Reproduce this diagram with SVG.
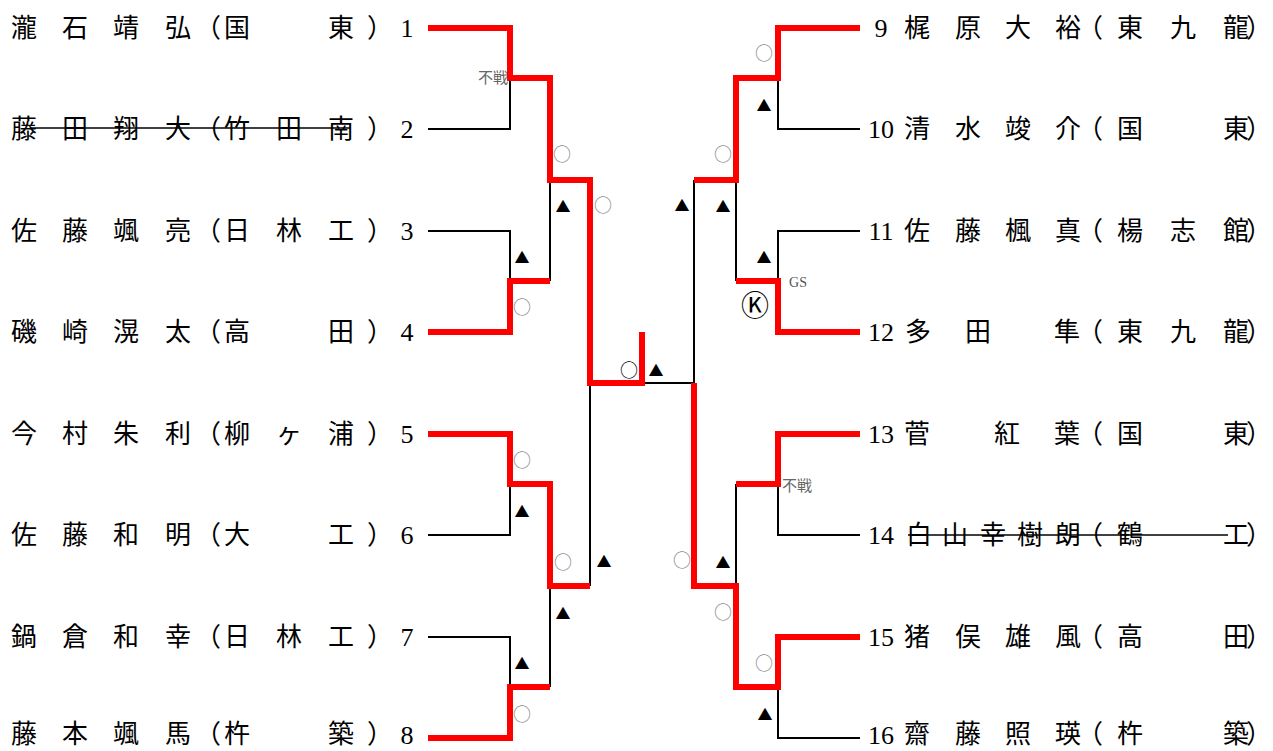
<svg xmlns="http://www.w3.org/2000/svg" width="1273" height="751" viewBox="0 0 1273 751">
<style>
.bg{fill:#fff}
.blk{fill:none;stroke:#000;stroke-width:2}
.red{fill:none;stroke:#f00;stroke-width:6;stroke-linejoin:miter}
.strike{fill:none;stroke:#000;stroke-width:1.6}
.nm{font-family:"Noto Sans CJK JP","Noto Sans CJK SC",sans-serif;font-size:26px;fill:#000;text-anchor:middle}
.num{font-family:"Liberation Serif",serif;font-size:26px;fill:#000;text-anchor:middle}
.ok{font-family:"Noto Sans CJK JP",sans-serif;font-size:18px;fill:#888;text-anchor:middle}
.ok2{font-family:"Noto Sans CJK JP",sans-serif;font-size:18px;fill:#000;text-anchor:middle}
.tri{font-family:"Noto Sans CJK JP",sans-serif;font-size:15px;fill:#000;text-anchor:middle}
.note{font-family:"Noto Sans CJK JP",sans-serif;font-size:15px;fill:#666}
.gs{font-family:"Liberation Serif",serif;font-size:14px;fill:#555;text-anchor:middle}
.kk{font-family:"Noto Sans CJK JP","DejaVu Sans",sans-serif;font-size:28px;fill:#000;text-anchor:middle}
</style>
<rect class="bg" x="0" y="0" width="1273" height="751"/>

<g id="connectors">
  <path class="blk" d="M428,129 H510 V78 M428,231 H510 V281 M550,281 V180 M428,535 H510 V484 M428,637 H510 V687 M550,687 V586 M590,586 V383"/>
  <path class="blk" d="M860,129 H778 V78 M860,231 H778 V281 M736,281 V180 M694,180 V383 H642 M860,535 H778 V484 M736,484 V586 M860,738 H778 V687"/>
  <path class="red" d="M428,28 H510 V78 H550 V180 H590 V383 H642 V332"/>
  <path class="red" d="M428,332 H510 V281 H550"/>
  <path class="red" d="M428,434 H510 V484 H550 V586 H590"/>
  <path class="red" d="M428,738 H510 V687 H550"/>
  <path class="red" d="M860,28 H778 V78 H736 V180 H694"/>
  <path class="red" d="M860,332 H778 V281 H736"/>
  <path class="red" d="M860,434 H778 V484 H736"/>
  <path class="red" d="M860,637 H778 V687 H736 V586 H694 V383"/>
</g>

<g id="p1"><text class="nm" x="24 75 126 178 208 237 341 380" y="37">瀧石靖弘（国東）</text><text class="num" x="407" y="37">1</text></g>
<g id="p2"><text class="nm" x="24 75 126 178 208 237 289 341 380" y="138">藤田翔大（竹田南）</text><text class="num" x="407" y="138">2</text><path class="strike" d="M30,128 H350"/></g>
<g id="p3"><text class="nm" x="24 75 126 178 208 237 289 341 380" y="240">佐藤颯亮（日林工）</text><text class="num" x="407" y="240">3</text></g>
<g id="p4"><text class="nm" x="24 75 126 178 208 237 341 380" y="341">磯崎滉太（高田）</text><text class="num" x="407" y="341">4</text></g>
<g id="p5"><text class="nm" x="24 75 126 178 208 237 289 341 380" y="443">今村朱利（柳ヶ浦）</text><text class="num" x="407" y="443">5</text></g>
<g id="p6"><text class="nm" x="24 75 126 178 208 237 341 380" y="544">佐藤和明（大工）</text><text class="num" x="407" y="544">6</text></g>
<g id="p7"><text class="nm" x="24 75 126 178 208 237 289 341 380" y="646">鍋倉和幸（日林工）</text><text class="num" x="407" y="646">7</text></g>
<g id="p8"><text class="nm" x="24 75 126 178 208 237 341 380" y="743">藤本颯馬（杵築）</text><text class="num" x="407" y="744">8</text></g>

<g id="p9"><text class="num" x="881" y="37">9</text><text class="nm" x="917 968 1018 1068 1090 1130 1183 1236 1259" y="37">梶原大裕（東九龍）</text></g>
<g id="p10"><text class="num" x="881" y="138">10</text><text class="nm" x="917 968 1018 1068 1090 1130 1236 1259" y="138">清水竣介（国東）</text></g>
<g id="p11"><text class="num" x="881" y="240">11</text><text class="nm" x="917 968 1018 1068 1090 1130 1183 1236 1259" y="240">佐藤楓真（楊志館）</text></g>
<g id="p12"><text class="num" x="881" y="341">12</text><text class="nm" x="918 978 1067 1090 1130 1183 1236 1259" y="341">多田隼（東九龍）</text></g>
<g id="p13"><text class="num" x="881" y="443">13</text><text class="nm" x="917 1007 1067 1090 1130 1236 1259" y="443">菅紅葉（国東）</text></g>
<g id="p14"><text class="num" x="881" y="544">14</text><text class="nm" x="919 955 993 1030 1068 1090 1130 1236 1259" y="544">白山幸樹朗（鶴工）</text><path class="strike" d="M908,535 H1228"/></g>
<g id="p15"><text class="num" x="881" y="646">15</text><text class="nm" x="917 968 1018 1068 1090 1130 1236 1259" y="646">猪俣雄風（高田）</text></g>
<g id="p16"><text class="num" x="881" y="744">16</text><text class="nm" x="917 968 1018 1068 1090 1130 1236 1259" y="743">齋藤照瑛（杵築）</text></g>

<g id="marks">
  <text class="note" x="508" y="83" text-anchor="end">不戦</text>
  <text class="note" x="782" y="491">不戦</text>
  <text class="gs" x="798" y="287">GS</text>
  <text class="kk" x="755" y="316">Ⓚ</text>
  <text class="ok2" x="629" y="377">○</text>
  <text class="tri" x="656" y="376">▲</text>
  <text class="ok" x="562" y="161">○</text>
  <text class="tri" x="563" y="212">▲</text>
  <text class="ok" x="603" y="212">○</text>
  <text class="tri" x="522" y="263">▲</text>
  <text class="ok" x="522" y="314">○</text>
  <text class="ok" x="522" y="467">○</text>
  <text class="tri" x="522" y="517">▲</text>
  <text class="ok" x="563" y="569">○</text>
  <text class="tri" x="604" y="567">▲</text>
  <text class="tri" x="563" y="619">▲</text>
  <text class="tri" x="522" y="669">▲</text>
  <text class="ok" x="522" y="721">○</text>
  <text class="ok" x="764" y="60">○</text>
  <text class="tri" x="764" y="111">▲</text>
  <text class="ok" x="723" y="161">○</text>
  <text class="tri" x="682" y="211">▲</text>
  <text class="tri" x="723" y="212">▲</text>
  <text class="tri" x="764" y="263">▲</text>
  <text class="ok" x="682" y="567">○</text>
  <text class="tri" x="723" y="568">▲</text>
  <text class="ok" x="723" y="619">○</text>
  <text class="ok" x="764" y="670">○</text>
  <text class="tri" x="765" y="720">▲</text>
</g>
</svg>
